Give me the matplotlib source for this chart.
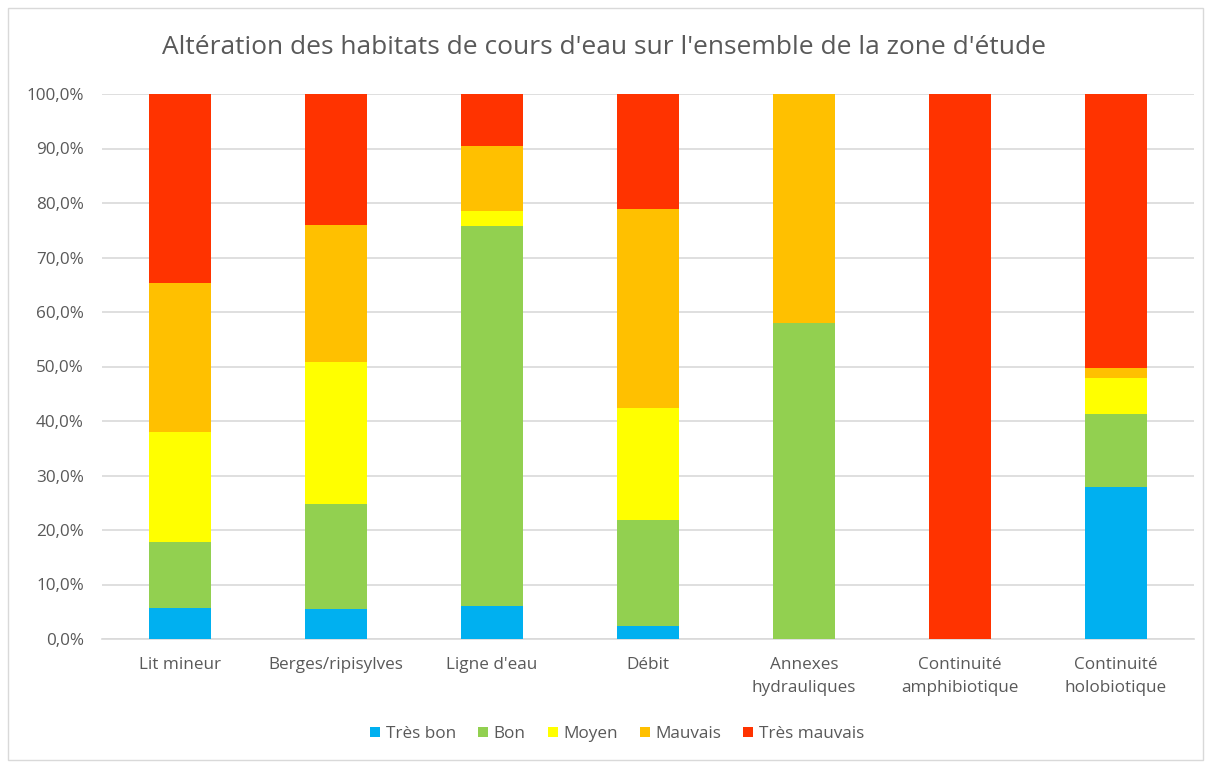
import matplotlib
matplotlib.use("Agg")
import matplotlib.pyplot as plt
from matplotlib.patches import Rectangle
from matplotlib.ticker import FuncFormatter
import numpy as np

categories = ["Lit mineur", "Berges/ripisylves", "Ligne d'eau", "Débit",
              "Annexes\nhydrauliques", "Continuité\namphibiotique", "Continuité\nholobiotique"]
series_names = ["Très bon", "Bon", "Moyen", "Mauvais", "Très mauvais"]
tres_bon = [5.7, 5.5, 6.1, 2.3, 0.0, 0.0, 27.9]
bon = [12.1, 19.3, 69.7, 19.5, 57.9, 0.0, 13.3]
moyen = [20.1, 26.0, 2.7, 20.6, 0.0, 0.0, 6.7]
mauvais = [27.5, 25.2, 11.9, 36.5, 42.1, 0.0, 1.9]
tres_mauvais = [34.6, 24.0, 9.6, 21.1, 0.0, 100.0, 50.2]
colors = ["#00B0F0", "#92D050", "#FFFF00", "#FFC000", "#FF3300"]

plt.rcParams['font.family'] = ['Open Sans', 'DejaVu Sans']

fig = plt.figure(figsize=(12.08, 7.62), dpi=100)
W, H = 1208, 762
ax = fig.add_axes([102 / W, 1 - 639 / H, (1194 - 102) / W, (639 - 94) / H])

x = np.arange(len(categories))
bottom = np.zeros(len(categories))
for name, vals, c in zip(series_names, [tres_bon, bon, moyen, mauvais, tres_mauvais], colors):
    vals = np.array(vals)
    ax.bar(x, vals, 0.4, bottom=bottom, color=c, label=name, zorder=3)
    bottom += vals

ax.set_xlim(-0.5, len(categories) - 0.5)
ax.set_ylim(0, 100)
ax.set_yticks(np.arange(0, 101, 10))
ax.yaxis.set_major_formatter(FuncFormatter(lambda v, p: f"{v:.1f}%".replace(".", ",")))
ax.set_xticks(x)
ax.set_xticklabels(categories, fontsize=12.3, color="#595959", linespacing=1.6)
ax.tick_params(axis='y', labelsize=12.3, labelcolor="#595959", length=0, pad=13)
ax.tick_params(axis='x', length=0, pad=13)
ax.grid(axis='y', color="#D9D9D9", linewidth=1.2, zorder=0)
for s in ["top", "right", "left"]:
    ax.spines[s].set_visible(False)
ax.spines["bottom"].set_color("#D9D9D9")
ax.spines["bottom"].set_linewidth(1.2)

fig.text(0.5, 1 - 48 / H, "Altération des habitats de cours d'eau sur l'ensemble de la zone d'étude",
         ha="center", va="center", fontsize=19, color="#595959")

leg = fig.legend(loc="center", bbox_to_anchor=(617 / W, 1 - 734 / H), ncol=5, frameon=False,
                 fontsize=12.3, handlelength=0.6, handleheight=0.6, handletextpad=0.3,
                 columnspacing=1.3, labelcolor="#595959")

fig.patches.append(Rectangle((8 / W, 2 / H), (1203 - 8) / W, (754 - 2) / H,
                             transform=fig.transFigure, fill=False, edgecolor="#D9D9D9", linewidth=1))

fig.savefig("out.png", dpi=100)
